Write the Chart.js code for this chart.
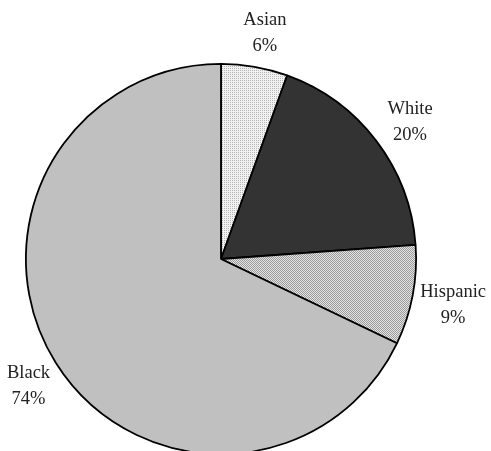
<!DOCTYPE html>
<html>
<head>
<meta charset="utf-8">
<script src="https://cdn.jsdelivr.net/npm/chart.js@4"></script>
<style>
  html, body { margin: 0; padding: 0; background: #fff; overflow: hidden; }
  #wrap { width: 491px; height: 470px; position: relative; }
</style>
</head>
<body>
<div id="wrap"><canvas id="pie"></canvas></div>
<script>
// data
const groups = ['Asian', 'White', 'Hispanic', 'Black'];
const shares = [6, 20, 9, 74];
const shareLabels = ['6%', '20%', '9%', '74%'];

// small tiled fills for the hatched slices
function makePattern(a, b, checker) {
    const c = document.createElement('canvas');
    c.width = 2; c.height = 2;
    const g = c.getContext('2d');
    g.fillStyle = b; g.fillRect(0, 0, 2, 2);
    g.fillStyle = a; g.fillRect(0, 0, 1, 1);
    if (checker) g.fillRect(1, 1, 1, 1);
    return g.createPattern(c, 'repeat');
}

const fills = [
    makePattern('#b4b4b4', '#f2f2f2', false),
    '#333333',
    makePattern('#9a9a9a', '#e4e4e4', true),
    '#c0c0c0'
];

// labels outside each slice, two lines
const outsideLabels = {
    id: 'outsideLabels',
    afterDraw(chart) {
        const ctx = chart.ctx;
        const arcs = chart.getDatasetMeta(0).data;
        ctx.save();
        ctx.font = '18.5px "Liberation Serif", serif';
        ctx.fillStyle = '#222';
        ctx.textAlign = 'center';
        ctx.textBaseline = 'middle';
        arcs.forEach((arc, i) => {
            const mid = (arc.startAngle + arc.endAngle) / 2;
            const r = arc.outerRadius * 1.19;
            const x = arc.x + Math.cos(mid) * r + 4;
            const y = arc.y + Math.sin(mid) * r + 3;
            ctx.fillText(groups[i], x, y - 13);
            ctx.fillText(shareLabels[i], x, y + 13);
        });
        ctx.restore();
    }
};

new Chart(document.getElementById('pie'), {
    type: 'pie',
    data: {
        labels: groups,
        datasets: [{
            data: shares,
            backgroundColor: fills,
            borderColor: '#000',
            borderWidth: 1.8
        }]
    },
    options: {
        responsive: true,
        maintainAspectRatio: false,
        animation: false,
        layout: { padding: { top: 62, bottom: 14, left: 25, right: 74 } },
        plugins: {
            legend: { display: false },
            tooltip: { enabled: false }
        }
    },
    plugins: [outsideLabels]
});
</script>
</body>
</html>
